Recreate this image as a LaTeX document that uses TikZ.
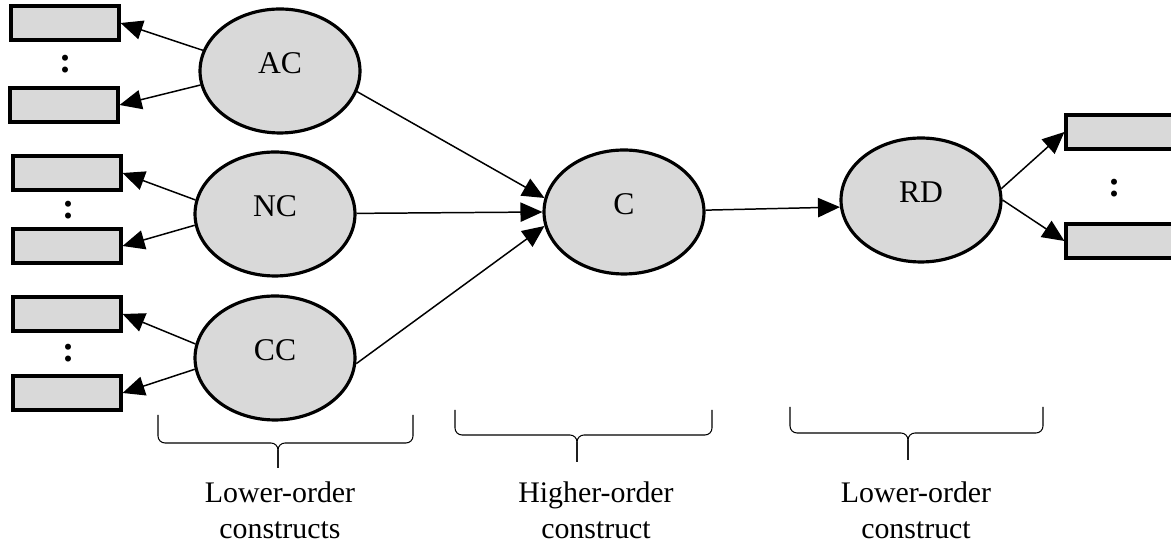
\documentclass[tikz,border=0pt]{standalone}
\usepackage{fontspec}
\setmainfont{Liberation Serif}
\usetikzlibrary{shapes.geometric,arrows.meta}
\definecolor{shade}{RGB}{217,217,217}
\tikzset{
	ovalnode/.style={ellipse, draw=black, fill=shade, line width=1.8pt, minimum width=3.2cm, minimum height=2.48cm, inner sep=0pt, text depth=0.32cm, font=\fontsize{18}{21}\selectfont},
	boxnode/.style={rectangle, draw=black, fill=shade, line width=1.8pt, minimum width=2.16cm, minimum height=0.68cm, inner sep=0pt},
	dotsnode/.style={inner sep=0pt, font=\fontsize{21}{24}\selectfont\bfseries}
}
\tikzset{
	arr/.style={-{Triangle[length=12.5pt, width=11pt]}, line width=0.85pt},
	bracestyle/.style={line width=0.6pt, rounded corners=4pt},
	labelnode/.style={align=center, font=\fontsize{17}{20.4}\selectfont}
}

\begin{document}
\begin{tikzpicture}[x=0.02cm, y=-0.02cm]
		\useasboundingbox (0,0) rectangle (1171,546);
		\clip (0,0) rectangle (1171,546);
		
		\node[boxnode] at (65,23) (a1) {};
		\node[boxnode] at (64,105) (a2) {};
		\node[boxnode] at (67,173) (n1) {};
		\node[boxnode] at (67,246) (n2) {};
		\node[boxnode] at (67,314) (c1) {};
		\node[boxnode] at (67,393) (c2) {};
		\node[boxnode] at (1120,132) (r1) {};
		\node[boxnode] at (1120,241) (r2) {};
		
		\node[dotsnode] at (66,64) (ad) {:};
		\node[dotsnode] at (69,210) (nd) {:};
		\node[dotsnode] at (69,353) (cd) {:};
		\node[dotsnode] at (1115,188) (rdd) {:};
		
		\node[ovalnode] at (280,71) (ac) {AC};
		\node[ovalnode] at (275,214) (nc) {NC};
		\node[ovalnode] at (275,358) (cc) {CC};
		\node[ovalnode] at (624,212) (c) {C};
		\node[ovalnode] at (921,200) (rd) {RD};
		
		\draw[arr] (ac.165) -- (a1.east);
		\draw[arr] (ac.190) -- (a2.east);
		\draw[arr] (nc.170) -- (n1.east);
		\draw[arr] (nc.188) -- (n2.east);
		\draw[arr] (cc.170) -- (c1.east);
		\draw[arr] (cc.188) -- (c2.east);
		\draw[arr] (ac.-15) -- (c.170);
		\draw[arr] (nc) -- (c.west);
		\draw[arr] (cc.-4) -- (c.190);
		\draw[arr] (c) -- (rd.185);
		\draw[arr] (rd.8) -- (r1.west);
		\draw[arr] (rd.0) -- (r2.west);
		
		\draw[bracestyle] (158,415) -- (158,443) -- (278,443) -- (278,468);
		\draw[bracestyle] (413,415) -- (413,443) -- (278,443) -- (278,468);
		\draw[bracestyle] (455,410) -- (455,435) -- (577,435) -- (577,462);
		\draw[bracestyle] (712,410) -- (712,435) -- (577,435) -- (577,462);
		\draw[bracestyle] (790,407) -- (790,433) -- (908,433) -- (908,460);
		\draw[bracestyle] (1043,407) -- (1043,433) -- (908,433) -- (908,460);
		
		\node[labelnode] at (280,510) (lowt) {Lower-order\\constructs};
		\node[labelnode] at (596,510) (hight) {Higher-order\\construct};
		\node[labelnode] at (916,510) (rdt) {Lower-order\\construct};
	\end{tikzpicture}
\end{document}
